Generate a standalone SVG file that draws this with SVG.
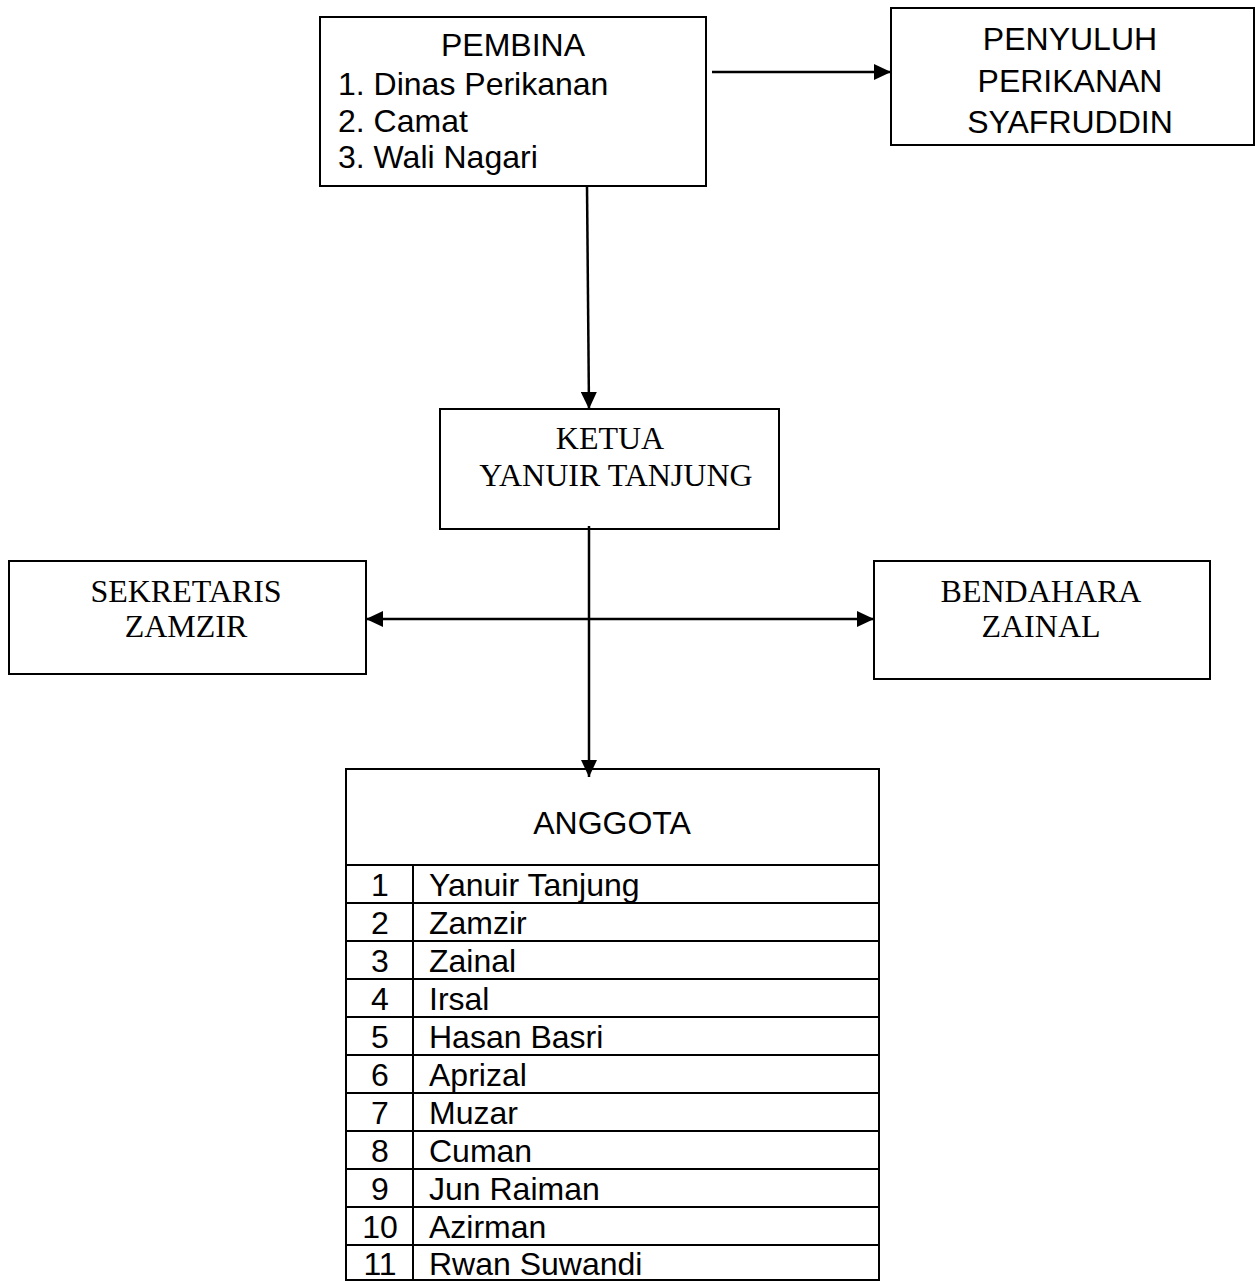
<svg xmlns="http://www.w3.org/2000/svg" width="1255" height="1281" viewBox="0 0 1255 1281">
<style>
  .box{fill:#fff;stroke:#000;stroke-width:2}
  .sans{font-family:"Liberation Sans",Arial,sans-serif;font-size:32px;fill:#000}
  .serif{font-family:"Liberation Serif","Times New Roman",serif;font-size:32px;fill:#000}
  .tbl{font-family:"Liberation Sans",Arial,sans-serif;font-size:32px;fill:#000}
  .c{text-anchor:middle}
  .conn{stroke:#000;stroke-width:2.5;fill:none}
  .grid{stroke:#000;stroke-width:2}
</style>
<defs>
  <marker id="ah" markerUnits="userSpaceOnUse" markerWidth="17" markerHeight="16" refX="17" refY="8" orient="auto-start-reverse">
    <path d="M0,0 L17,8 L0,16 z" fill="#000"/>
  </marker>
</defs>
<rect width="1255" height="1281" fill="#fff"/>

<g id="pembina">
  <rect class="box" x="320" y="17" width="386" height="169"/>
  <text class="sans c" x="513" y="56">PEMBINA</text>
  <text class="sans" x="338" y="95">1. Dinas Perikanan</text>
  <text class="sans" x="338" y="132">2. Camat</text>
  <text class="sans" x="338" y="168">3. Wali Nagari</text>
</g>

<g id="penyuluh">
  <rect class="box" x="891" y="8" width="363" height="137"/>
  <text class="sans c" x="1070" y="50">PENYULUH</text>
  <text class="sans c" x="1070" y="92">PERIKANAN</text>
  <text class="sans c" x="1070" y="133">SYAFRUDDIN</text>
</g>

<g id="ketua">
  <rect class="box" x="440" y="409" width="339" height="120"/>
  <text class="serif c" x="610" y="449">KETUA</text>
  <text class="serif c" x="616" y="486">YANUIR TANJUNG</text>
</g>

<g id="sekretaris">
  <rect class="box" x="9" y="561" width="357" height="113"/>
  <text class="serif c" x="186" y="602">SEKRETARIS</text>
  <text class="serif c" x="186" y="637">ZAMZIR</text>
</g>

<g id="bendahara">
  <rect class="box" x="874" y="561" width="336" height="118"/>
  <text class="serif c" x="1041" y="602">BENDAHARA</text>
  <text class="serif c" x="1041" y="637">ZAINAL</text>
</g>

<g id="anggota">
  <rect class="box" x="346" y="769" width="533" height="511"/>
  <text class="tbl c" x="612" y="834">ANGGOTA</text>
  <g class="grid">
    <line x1="346" y1="865" x2="879" y2="865"/>
    <line x1="346" y1="903" x2="879" y2="903"/>
    <line x1="346" y1="941" x2="879" y2="941"/>
    <line x1="346" y1="979" x2="879" y2="979"/>
    <line x1="346" y1="1017" x2="879" y2="1017"/>
    <line x1="346" y1="1055" x2="879" y2="1055"/>
    <line x1="346" y1="1093" x2="879" y2="1093"/>
    <line x1="346" y1="1131" x2="879" y2="1131"/>
    <line x1="346" y1="1169" x2="879" y2="1169"/>
    <line x1="346" y1="1207" x2="879" y2="1207"/>
    <line x1="346" y1="1245" x2="879" y2="1245"/>
    <line x1="413" y1="865" x2="413" y2="1280"/>
  </g>
  <g class="tbl">
    <text class="c" x="380" y="896">1</text><text x="429" y="896">Yanuir Tanjung</text>
    <text class="c" x="380" y="934">2</text><text x="429" y="934">Zamzir</text>
    <text class="c" x="380" y="972">3</text><text x="429" y="972">Zainal</text>
    <text class="c" x="380" y="1010">4</text><text x="429" y="1010">Irsal</text>
    <text class="c" x="380" y="1048">5</text><text x="429" y="1048">Hasan Basri</text>
    <text class="c" x="380" y="1086">6</text><text x="429" y="1086">Aprizal</text>
    <text class="c" x="380" y="1124">7</text><text x="429" y="1124">Muzar</text>
    <text class="c" x="380" y="1162">8</text><text x="429" y="1162">Cuman</text>
    <text class="c" x="380" y="1200">9</text><text x="429" y="1200">Jun Raiman</text>
    <text class="c" x="380" y="1238">10</text><text x="429" y="1238">Azirman</text>
    <text class="c" x="380" y="1275">11</text><text x="429" y="1275">Rwan Suwandi</text>
  </g>
</g>

<g id="connectors">
  <line class="conn" x1="712" y1="72" x2="891" y2="72" marker-end="url(#ah)"/>
  <line class="conn" x1="587" y1="186" x2="589" y2="409" marker-end="url(#ah)"/>
  <line class="conn" x1="589" y1="526" x2="589" y2="777" marker-end="url(#ah)"/>
  <line class="conn" x1="366" y1="619" x2="874" y2="619" marker-start="url(#ah)" marker-end="url(#ah)"/>
</g>
</svg>
